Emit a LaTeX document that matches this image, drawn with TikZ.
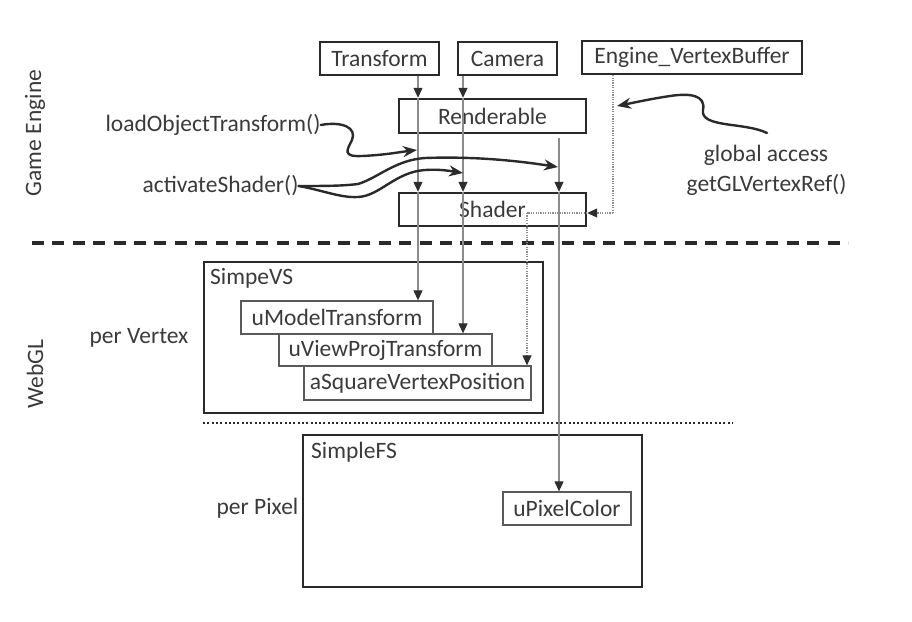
\documentclass[tikz,border=0pt]{standalone}
\usepackage{fontspec}
\setmainfont{Carlito}
\usetikzlibrary{arrows.meta}
\definecolor{txt}{HTML}{3A3A3A}
\definecolor{bx}{HTML}{2A2A2A}
\definecolor{ibx}{HTML}{5A5A5A}
\definecolor{ln}{HTML}{8C8C8C}
\definecolor{ah}{HTML}{2E2E2E}
\begin{document}
\begin{tikzpicture}[x=1pt,y=-1pt,
  font=\fontsize{23.5}{28}\selectfont, text=txt,
  box/.style={draw=bx, line width=2.4pt, inner sep=0pt},
  ibox/.style={draw=ibx, line width=1.3pt, inner sep=0pt},
  lbl/.style={inner sep=0pt},
  vline/.style={draw=ln, line width=1.1pt, -{Triangle[length=10pt,width=9pt,color=ah]}},
  dline/.style={draw=ln, line width=1.2pt, dash pattern=on 1.2pt off 1.2pt},
  dlinearr/.style={dline, -{Triangle[length=10pt,width=9pt,color=ah]}},
  curvy/.style={draw=bx, line width=2.4pt, line cap=round, -{Stealth[length=14pt,width=11pt]}}
]
\useasboundingbox (0,0) rectangle (912,621);

% top boxes
\node[box, minimum width=119pt, minimum height=33pt] (tr) at (379.5,58.5) {Transform};
\node[box, minimum width=99pt, minimum height=33pt] (cam) at (507.5,58.5) {Camera};
\node[box, minimum width=220pt, minimum height=33pt] (evb) at (692,57.5) {Engine\_VertexBuffer};
\node[box, minimum width=187pt, minimum height=34pt] (rend) at (492.5,116) {Renderable};
\node[box, minimum width=187pt, minimum height=33pt] (shd) at (492.5,209.5) {Shader};

% WebGL boxes
\node[box, minimum width=339pt, minimum height=151pt] (vs) at (373.5,337.5) {};
\node[lbl, anchor=west] (vsl) at (210,278) {SimpeVS};
\node[ibox, minimum width=192pt, minimum height=33pt] (um) at (337,317.5) {uModelTransform};
\node[ibox, minimum width=213pt, minimum height=32pt] (uv) at (385.5,350) {uViewProjTransform};
\node[ibox, minimum width=227pt, minimum height=34pt] (asq) at (417.5,383) {aSquareVertexPosition};

\node[box, minimum width=339pt, minimum height=152pt] (fs) at (472.5,511) {};
\node[lbl, anchor=west] (fsl) at (311,452) {SimpleFS};
\node[ibox, minimum width=128pt, minimum height=33pt] (upc) at (567,508.5) {uPixelColor};

% side labels
\node[lbl, rotate=90] (ge) at (35,133) {Game Engine};
\node[lbl, rotate=90] (wgl) at (35,374) {WebGL};
\node[lbl] (pv) at (139,338) {per Vertex};
\node[lbl] (pp) at (257.5,508) {per Pixel};
\node[lbl] (lot) at (213,125) {loadObjectTransform()};
\node[lbl] (acs) at (220.5,186) {activateShader()};
\node[lbl] (gac) at (766,155) {global access};
\node[lbl] (ggl) at (766.5,185) {getGLVertexRef()};

% separators
\coordinate (dsA) at (32,243);
\coordinate (dsB) at (848,243);
\draw[color=bx, line width=3.5pt, dash pattern=on 12pt off 8.4pt] (dsA) -- (dsB);
\coordinate (dtA) at (203,423);
\coordinate (dtB) at (732,423);
\draw[color=bx, line width=2pt, dash pattern=on 2pt off 2.3pt] (dtA) -- (dtB);

% vertical connectors
\coordinate (xT) at (418,0);
\coordinate (xC) at (463,0);
\coordinate (xR) at (559,0);
\coordinate (xE) at (613,0);
\coordinate (xD) at (527,0);
\coordinate (yE) at (0,213);

\draw[vline] (tr.south -| xT) -- (rend.north -| xT);
\draw[vline] (rend.north -| xT) -- (shd.north -| xT);
\draw[vline] (shd.north -| xT) -- (um.north -| xT);
\draw[vline] (cam.south -| xC) -- (rend.north -| xC);
\draw[vline] (rend.north -| xC) -- (shd.north -| xC);
\draw[vline] (shd.north -| xC) -- (uv.north -| xC);
\draw[vline] ([yshift=-4pt]rend.south -| xR) -- (shd.north -| xR);
\draw[vline] (shd.north -| xR) -- (upc.north -| xR);

% engine vertex buffer dotted
\draw[dline] (evb.south -| xE) -- (yE -| xE);
\draw[dlinearr] (yE -| xE) -- (yE -| shd.east);
\draw[dline] (yE -| shd.east) -- (yE -| xD);
\draw[dlinearr] (yE -| xD) -- (asq.north -| xD);

% curvy callouts
\coordinate (lotT) at (417,150);
\coordinate (acsT1) at (558,167);
\coordinate (acsT2) at (463,173);
\coordinate (gacS) at (767,133);
\coordinate (gacT) at (617,106);
\draw[curvy] (lot.east) .. controls (343,121) and (357,128) .. (352,140)
   .. controls (347,150) and (342,157) .. (362,156)
   .. controls (385,155) and (400,152) .. (lotT);
\draw[curvy] (acs.east) .. controls (325,186) and (342,186) .. (358,184)
   .. controls (378,178) and (395,160) .. (425,158)
   .. controls (480,156) and (525,162) .. (acsT1);
\draw[curvy] (acs.east) .. controls (322,190) and (340,198) .. (358,197)
   .. controls (380,196) and (395,172) .. (425,170)
   .. controls (440,169) and (450,171) .. (acsT2);
\draw[curvy] (gacS) .. controls (745,122) and (700,128) .. (703,110)
   .. controls (706,95) and (690,93) .. (670,96)
   .. controls (650,99) and (632,103) .. (gacT);
\end{tikzpicture}
\end{document}
